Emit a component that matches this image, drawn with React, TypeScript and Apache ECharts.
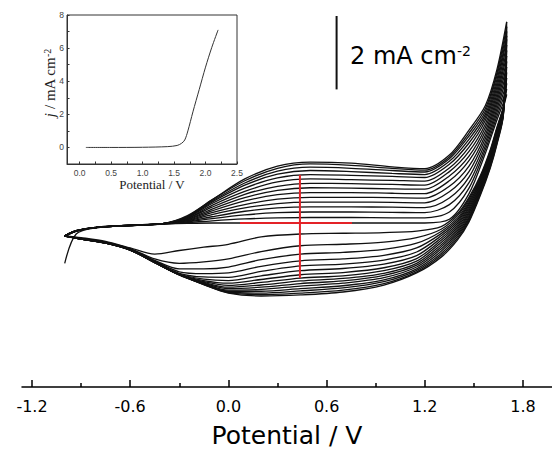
import React, { useEffect, useRef } from "react";
import * as echarts from "echarts";

// ---------- data ----------
const mainLabelValues = [-1.2, -0.6, 0, 0.6, 1.2, 1.8];
const minorTickFirst = -0.9;
const minorTickLast = 1.5;
const minorTickStep = 0.6;
const insetXLabels = [0, 0.5, 1, 1.5, 2, 2.5];
const insetXTicks = [0, 0.25, 0.5, 0.75, 1, 1.25, 1.5, 1.75, 2, 2.25, 2.5];
const insetYLabels = [0, 2, 4, 6, 8];
const insetYTicks = [0, 1, 2, 3, 4, 5, 6, 7, 8];

// forward (anodic) sweep potentials, V
const anodicPotential = [-1.0, -0.93, -0.8, -0.6, -0.4, -0.25, -0.1, 0.1, 0.3, 0.5, 0.75, 1.0, 1.2, 1.35, 1.47, 1.57, 1.64, 1.7];
// current density per cycle, mA cm-2
const anodicCurrent = [
  [-1.1, -0.3, -0.13, -0.07, -0.03, -0.01, 0.0, 0.0, 0.0, 0.0, 0.0, 0.0, 0.0, 0.1, 0.8, 1.9, 2.8, 3.5],
  [-0.36, -0.22, -0.12, -0.07, -0.03, 0.01, 0.06, 0.11, 0.14, 0.15, 0.15, 0.14, 0.14, 0.3, 0.95, 2.0, 2.9, 3.65],
  [-0.35, -0.21, -0.12, -0.06, -0.03, 0.03, 0.12, 0.22, 0.28, 0.3, 0.3, 0.29, 0.28, 0.5, 1.1, 2.1, 3.0, 3.8],
  [-0.36, -0.22, -0.12, -0.07, -0.02, 0.04, 0.17, 0.32, 0.41, 0.44, 0.44, 0.43, 0.42, 0.68, 1.25, 2.2, 3.1, 3.95],
  [-0.35, -0.21, -0.11, -0.06, -0.02, 0.06, 0.23, 0.41, 0.53, 0.57, 0.57, 0.56, 0.55, 0.85, 1.4, 2.3, 3.2, 4.1],
  [-0.36, -0.22, -0.12, -0.07, -0.02, 0.07, 0.28, 0.5, 0.65, 0.7, 0.7, 0.69, 0.68, 1.0, 1.55, 2.4, 3.3, 4.25],
  [-0.35, -0.21, -0.12, -0.06, -0.02, 0.09, 0.33, 0.6, 0.77, 0.83, 0.83, 0.81, 0.8, 1.15, 1.7, 2.5, 3.4, 4.4],
  [-0.36, -0.22, -0.12, -0.07, -0.02, 0.1, 0.38, 0.69, 0.89, 0.96, 0.95, 0.93, 0.92, 1.28, 1.82, 2.6, 3.5, 4.55],
  [-0.35, -0.21, -0.11, -0.06, -0.02, 0.12, 0.43, 0.78, 1.0, 1.08, 1.07, 1.05, 1.03, 1.4, 1.95, 2.7, 3.6, 4.7],
  [-0.36, -0.22, -0.12, -0.07, -0.02, 0.13, 0.48, 0.86, 1.12, 1.2, 1.18, 1.16, 1.14, 1.5, 2.07, 2.8, 3.7, 4.85],
  [-0.35, -0.21, -0.12, -0.06, -0.02, 0.15, 0.53, 0.95, 1.23, 1.32, 1.3, 1.27, 1.24, 1.6, 2.18, 2.88, 3.8, 5.0],
  [-0.36, -0.22, -0.12, -0.07, -0.02, 0.16, 0.57, 1.03, 1.33, 1.43, 1.4, 1.35, 1.32, 1.68, 2.28, 2.96, 3.9, 5.1],
  [-0.35, -0.21, -0.11, -0.06, -0.02, 0.17, 0.6, 1.09, 1.41, 1.52, 1.49, 1.43, 1.39, 1.75, 2.37, 3.04, 4.0, 5.22],
  [-0.36, -0.22, -0.12, -0.07, -0.02, 0.18, 0.63, 1.15, 1.49, 1.61, 1.57, 1.49, 1.44, 1.8, 2.45, 3.12, 4.08, 5.35],
  [-0.35, -0.21, -0.12, -0.06, -0.02, 0.2, 0.63, 1.2, 1.55, 1.66, 1.63, 1.53, 1.48, 1.85, 2.53, 3.2, 4.17, 5.48],
];

// reverse (cathodic) sweep potentials, V
const cathodicPotential = [1.7, 1.68, 1.64, 1.6, 1.54, 1.47, 1.4, 1.3, 1.15, 0.95, 0.7, 0.44, 0.2, 0.0, -0.15, -0.3, -0.45, -0.6, -0.75, -0.9, -1.0];
const cathodicCurrent = [
  [3.5, 3.15, 2.6, 2.0, 1.3, 0.7, 0.25, -0.1, -0.22, -0.26, -0.28, -0.3, -0.38, -0.58, -0.66, -0.75, -0.85, -0.68, -0.5, -0.4, -0.35],
  [3.65, 3.15, 2.57, 1.96, 1.26, 0.65, 0.2, -0.17, -0.4, -0.52, -0.58, -0.62, -0.78, -0.98, -1.06, -1.1, -0.98, -0.7, -0.52, -0.42, -0.36],
  [3.8, 3.15, 2.54, 1.93, 1.22, 0.6, 0.14, -0.23, -0.55, -0.72, -0.8, -0.85, -1.0, -1.2, -1.25, -1.25, -1.02, -0.71, -0.53, -0.42, -0.35],
  [3.95, 3.14, 2.5, 1.89, 1.18, 0.55, 0.09, -0.29, -0.68, -0.88, -0.98, -1.03, -1.18, -1.36, -1.38, -1.33, -1.04, -0.72, -0.53, -0.43, -0.36],
  [4.1, 3.12, 2.47, 1.85, 1.15, 0.5, 0.04, -0.35, -0.79, -1.01, -1.12, -1.17, -1.32, -1.48, -1.47, -1.37, -1.05, -0.72, -0.54, -0.43, -0.35],
  [4.25, 3.1, 2.44, 1.82, 1.11, 0.45, -0.01, -0.41, -0.89, -1.12, -1.24, -1.3, -1.44, -1.57, -1.53, -1.39, -1.06, -0.73, -0.54, -0.43, -0.36],
  [4.4, 3.1, 2.4, 1.78, 1.07, 0.4, -0.06, -0.47, -0.97, -1.22, -1.35, -1.41, -1.54, -1.64, -1.57, -1.4, -1.06, -0.73, -0.54, -0.44, -0.35],
  [4.55, 3.08, 2.37, 1.75, 1.03, 0.35, -0.11, -0.53, -1.04, -1.3, -1.44, -1.5, -1.62, -1.7, -1.6, -1.4, -1.07, -0.73, -0.55, -0.44, -0.36],
  [4.7, 3.05, 2.33, 1.71, 0.99, 0.3, -0.16, -0.59, -1.1, -1.37, -1.51, -1.58, -1.69, -1.75, -1.62, -1.41, -1.07, -0.74, -0.55, -0.44, -0.35],
  [4.85, 3.03, 2.3, 1.68, 0.95, 0.26, -0.21, -0.65, -1.15, -1.43, -1.58, -1.65, -1.75, -1.79, -1.64, -1.41, -1.07, -0.74, -0.55, -0.44, -0.36],
  [5.0, 3.0, 2.26, 1.64, 0.91, 0.21, -0.26, -0.71, -1.2, -1.49, -1.64, -1.72, -1.81, -1.83, -1.65, -1.41, -1.08, -0.74, -0.55, -0.44, -0.35],
  [5.1, 3.0, 2.23, 1.6, 0.88, 0.16, -0.31, -0.77, -1.25, -1.55, -1.71, -1.79, -1.86, -1.86, -1.66, -1.42, -1.08, -0.74, -0.55, -0.44, -0.36],
  [5.22, 2.98, 2.2, 1.57, 0.84, 0.12, -0.36, -0.83, -1.29, -1.6, -1.77, -1.85, -1.91, -1.88, -1.67, -1.41, -1.08, -0.73, -0.55, -0.44, -0.35],
  [5.35, 2.96, 2.16, 1.53, 0.8, 0.07, -0.41, -0.88, -1.33, -1.65, -1.83, -1.91, -1.95, -1.9, -1.68, -1.41, -1.08, -0.73, -0.54, -0.43, -0.36],
  [5.48, 2.94, 2.13, 1.5, 0.76, 0.03, -0.46, -0.93, -1.36, -1.69, -1.88, -1.96, -1.99, -1.91, -1.68, -1.4, -1.08, -0.72, -0.54, -0.43, -0.35],
];

// inset: linear sweep
const insetPotential = [0.1, 0.5, 1.0, 1.4, 1.55, 1.62, 1.67, 1.72, 1.8, 1.9, 2.0, 2.1, 2.2];
const insetCurrent = [0, 0, 0.01, 0.05, 0.12, 0.25, 0.45, 1.0, 2.15, 3.5, 4.85, 6.05, 7.1];

// annotations (data coordinates)
const scaleBarPotential = 0.661;
const scaleBarCurrent = [3.64, 5.64];
const crossPotential = 0.437;
const crossCurrentRange = [1.31, -1.5];
const crossPotentialRange = [0.071, 0.755];
const crossCurrent = 0;

export default function App() {
  const ref = useRef<HTMLDivElement>(null);

  useEffect(() => {
    document.body.style.margin = "0";
    const chart = echarts.init(ref.current as HTMLDivElement, null, { renderer: "svg" });

    const black = "#111";
    const cvSeries: any[] = [];
    anodicCurrent.forEach((row, k) => {
      cvSeries.push({
        type: "line",
        xAxisIndex: 0,
        yAxisIndex: 0,
        data: anodicPotential.map((v, i) => [v, row[i]]),
        showSymbol: false,
        smooth: 0.3,
        silent: true,
        lineStyle: { color: black, width: 1.3 },
        z: 2,
      });
      cvSeries.push({
        type: "line",
        xAxisIndex: 0,
        yAxisIndex: 0,
        data: cathodicPotential.map((v, i) => [v, cathodicCurrent[k][i]]),
        showSymbol: false,
        smooth: 0.3,
        silent: true,
        lineStyle: { color: black, width: 1.3 },
        z: 2,
      });
    });

    // pixel scale of the main potential axis (grid 0: x 22..552 for -1.261..1.977 V)
    const pxPerV = 530 / (1.977 - -1.261);
    const minorLeft = 22 + (minorTickFirst - -1.261) * pxPerV;
    const minorWidth = (minorTickLast - minorTickFirst) * pxPerV;

    const red = "#e32227";
    const option: any = {
      animation: false,
      backgroundColor: "#ffffff",
      grid: [
        { left: 22, right: 0, top: 0, bottom: 70, show: false },
        {
          left: 67,
          top: 15,
          width: 170,
          height: 149,
          show: true,
          borderColor: "#333",
          borderWidth: 1,
          backgroundColor: "transparent",
        },
        // frame spanning exactly the minor-tick range of the potential axis
        { left: minorLeft, width: minorWidth, top: 0, bottom: 70, show: false },
      ],
      xAxis: [
        {
          type: "value",
          gridIndex: 0,
          min: -1.261,
          max: 1.977,
          position: "bottom",
          axisLine: { show: true, onZero: false, lineStyle: { color: "#000", width: 1.5 } },
          axisTick: {
            show: true,
            inside: true,
            length: 7,
            customValues: mainLabelValues,
            lineStyle: { color: "#000", width: 1.5 },
          },
          axisLabel: {
            show: true,
            customValues: mainLabelValues,
            formatter: (v: number) => v.toFixed(1),
            fontSize: 16,
            fontFamily: "DejaVu Sans",
            color: "#000",
            margin: 11,
          },
          splitLine: { show: false },
          name: "Potential / V",
          nameLocation: "middle",
          nameGap: 36,
          nameTextStyle: { fontSize: 25, fontFamily: "DejaVu Sans", color: "#000" },
        },
        {
          type: "value",
          gridIndex: 2,
          min: minorTickFirst,
          max: minorTickLast,
          interval: minorTickStep,
          position: "bottom",
          axisLine: { show: false, onZero: false },
          axisTick: {
            show: true,
            inside: true,
            length: 4,
            lineStyle: { color: "#000", width: 1.5 },
          },
          axisLabel: { show: false },
          splitLine: { show: false },
        },
        {
          type: "value",
          gridIndex: 1,
          min: -0.2,
          max: 2.5,
          position: "bottom",
          axisLine: { show: true, onZero: false, lineStyle: { color: "#333", width: 1 } },
          axisTick: {
            show: true,
            inside: true,
            length: 2.5,
            customValues: insetXTicks,
            lineStyle: { color: "#333", width: 1 },
          },
          axisLabel: {
            show: true,
            customValues: insetXLabels,
            formatter: (v: number) => v.toFixed(1),
            fontSize: 8.5,
            fontFamily: "Liberation Sans",
            color: "#444",
            margin: 4,
          },
          splitLine: { show: false },
          name: "Potential / V",
          nameLocation: "middle",
          nameGap: 13,
          nameTextStyle: { fontSize: 13, fontFamily: "Liberation Serif", color: "#222" },
        },
      ],
      yAxis: [
        { type: "value", gridIndex: 0, min: -4.469, max: 6.076, show: false },
        {
          type: "value",
          gridIndex: 1,
          min: -1,
          max: 8,
          axisLine: { show: true, onZero: false, lineStyle: { color: "#333", width: 1 } },
          axisTick: {
            show: true,
            inside: true,
            length: 2.5,
            customValues: insetYTicks,
            lineStyle: { color: "#333", width: 1 },
          },
          axisLabel: {
            show: true,
            customValues: insetYLabels,
            formatter: (v: number) => String(v),
            fontSize: 8.5,
            fontFamily: "Liberation Sans",
            color: "#444",
            margin: 3,
          },
          splitLine: { show: false },
        },
        { type: "value", gridIndex: 2, min: 0, max: 1, show: false },
      ],
      graphic: [
        {
          type: "text",
          x: 350,
          y: 56,
          z: 10,
          style: {
            text: "2 mA cm{s|-2}",
            fontSize: 24,
            fontFamily: "DejaVu Sans",
            fill: "#000",
            verticalAlign: "middle",
            rich: {
              s: { fontSize: 14, fontFamily: "DejaVu Sans", fill: "#000", verticalAlign: "top", padding: [0, 0, 4, 0] },
            },
          },
        },
        {
          type: "text",
          x: 50,
          y: 83,
          rotation: Math.PI / 2,
          z: 10,
          style: {
            text: "{i|j} / mA cm{s|-2}",
            fontSize: 15,
            fontFamily: "Liberation Serif",
            fill: "#222",
            align: "center",
            verticalAlign: "middle",
            rich: {
              i: { fontSize: 15, fontFamily: "Liberation Serif", fontStyle: "italic", fill: "#222" },
              s: { fontSize: 10, fontFamily: "Liberation Serif", fill: "#222", verticalAlign: "top" },
            },
          },
        },
      ],
      series: [
        ...cvSeries,
        {
          type: "line",
          xAxisIndex: 0,
          yAxisIndex: 0,
          data: crossCurrentRange.map((j) => [crossPotential, j]),
          showSymbol: false,
          silent: true,
          lineStyle: { color: red, width: 2 },
          z: 4,
        },
        {
          type: "line",
          xAxisIndex: 0,
          yAxisIndex: 0,
          data: crossPotentialRange.map((v) => [v, crossCurrent]),
          showSymbol: false,
          silent: true,
          lineStyle: { color: red, width: 2 },
          z: 4,
        },
        {
          type: "line",
          xAxisIndex: 0,
          yAxisIndex: 0,
          data: scaleBarCurrent.map((j) => [scaleBarPotential, j]),
          showSymbol: false,
          silent: true,
          lineStyle: { color: "#111", width: 2 },
          z: 4,
        },
        {
          type: "line",
          xAxisIndex: 2,
          yAxisIndex: 1,
          data: insetPotential.map((v, i) => [v, insetCurrent[i]]),
          showSymbol: false,
          smooth: 0.3,
          silent: true,
          lineStyle: { color: "#333", width: 1 },
          z: 4,
        },
      ],
    };

    chart.setOption(option);
    return () => chart.dispose();
  }, []);

  return <div ref={ref} style={{ width: 552, height: 457 }} />;
}
